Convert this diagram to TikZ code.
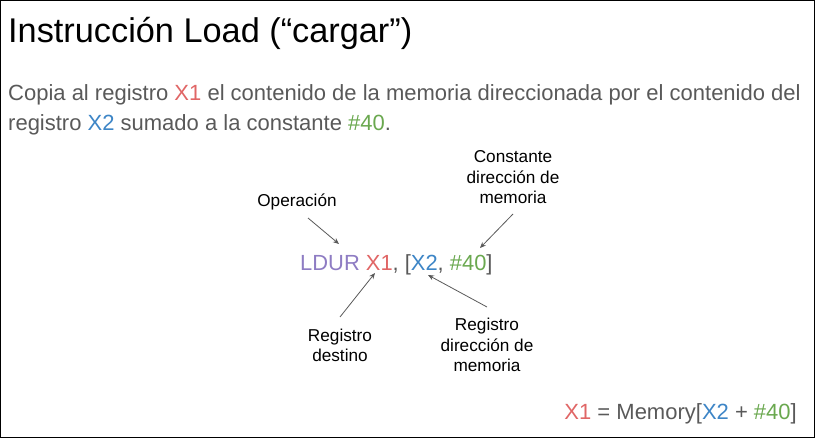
\documentclass[tikz,border=0pt]{standalone}
\usepackage{fontspec}
\setmainfont{Liberation Sans}
\usetikzlibrary{arrows.meta}
\definecolor{txtgray}{HTML}{595959}
\definecolor{cred}{HTML}{E06666}
\definecolor{cblue}{HTML}{3D85C6}
\definecolor{cgreen}{HTML}{6AA84F}
\definecolor{cpurple}{HTML}{8E7CC3}
\newcommand{\rX}[1]{\textcolor{cred}{#1}}
\newcommand{\bX}[1]{\textcolor{cblue}{#1}}
\newcommand{\gX}[1]{\textcolor{cgreen}{#1}}
\newcommand{\pX}[1]{\textcolor{cpurple}{#1}}
\begin{document}
\begin{tikzpicture}[x=1pt,y=-1pt,
  txt/.style={inner sep=0pt,anchor=base west},
  lbl/.style={inner sep=0pt,font=\fontsize{17.2}{20.5}\selectfont,align=center,text=black},
  pointer/.style={draw=txtgray,line width=0.8pt,-{Stealth[length=6pt,width=5pt]}}]
  % frame
  \draw[black,line width=1pt] (0.5,0.5) rectangle (814.5,437.5);
  \useasboundingbox (0,0) rectangle (815,438);
  % title and description
  \node[txt,font=\fontsize{34.3}{40}\selectfont] (title) at (8,43) {Instrucción Load (“cargar”)};
  \node[txt,font=\fontsize{22}{30}\selectfont,text=txtgray] (line1) at (8,101)
    {Copia al registro \rX{X1} el contenido de la memoria direccionada por el contenido del};
  \node[txt,font=\fontsize{22}{30}\selectfont,text=txtgray] (line2) at (8,131)
    {registro \bX{X2} sumado a la constante \gX{\#40}.};
  % instruction
  \node[txt,font=\fontsize{21.9}{25}\selectfont,text=txtgray] (instr) at (300,271)
    {\pX{LDUR} \rX{X1}, [\bX{X2}, \gX{\#40}]};
  % labels (base anchor sits on the last line)
  \node[lbl,anchor=base] (op) at (297,207) {Operación};
  \node[lbl,anchor=base] (cte) at (513,204) {Constante\\dirección de\\memoria};
  \node[lbl,anchor=base] (dest) at (340,362) {Registro\\destino};
  \node[lbl,anchor=base] (rdir) at (487,372) {Registro\\dirección de\\memoria};
  % pointer ends
  \coordinate (opS) at (308,218);   \coordinate (opE) at (339,244);
  \coordinate (cteS) at (513,214);  \coordinate (cteE) at (480,248);
  \coordinate (destS) at (340,317); \coordinate (destE) at (375,273);
  \coordinate (rdirS) at (487,307); \coordinate (rdirE) at (428,275);
  \draw[pointer] (opS) -- (opE);
  \draw[pointer] (cteS) -- (cteE);
  \draw[pointer] (destS) -- (destE);
  \draw[pointer] (rdirS) -- (rdirE);
  % equivalence
  \node[inner sep=0pt,anchor=base east,font=\fontsize{22}{26}\selectfont,text=txtgray] (eq) at (797,420)
    {\rX{X1} = Memory[\bX{X2} + \gX{\#40}]};
\end{tikzpicture}
\end{document}
